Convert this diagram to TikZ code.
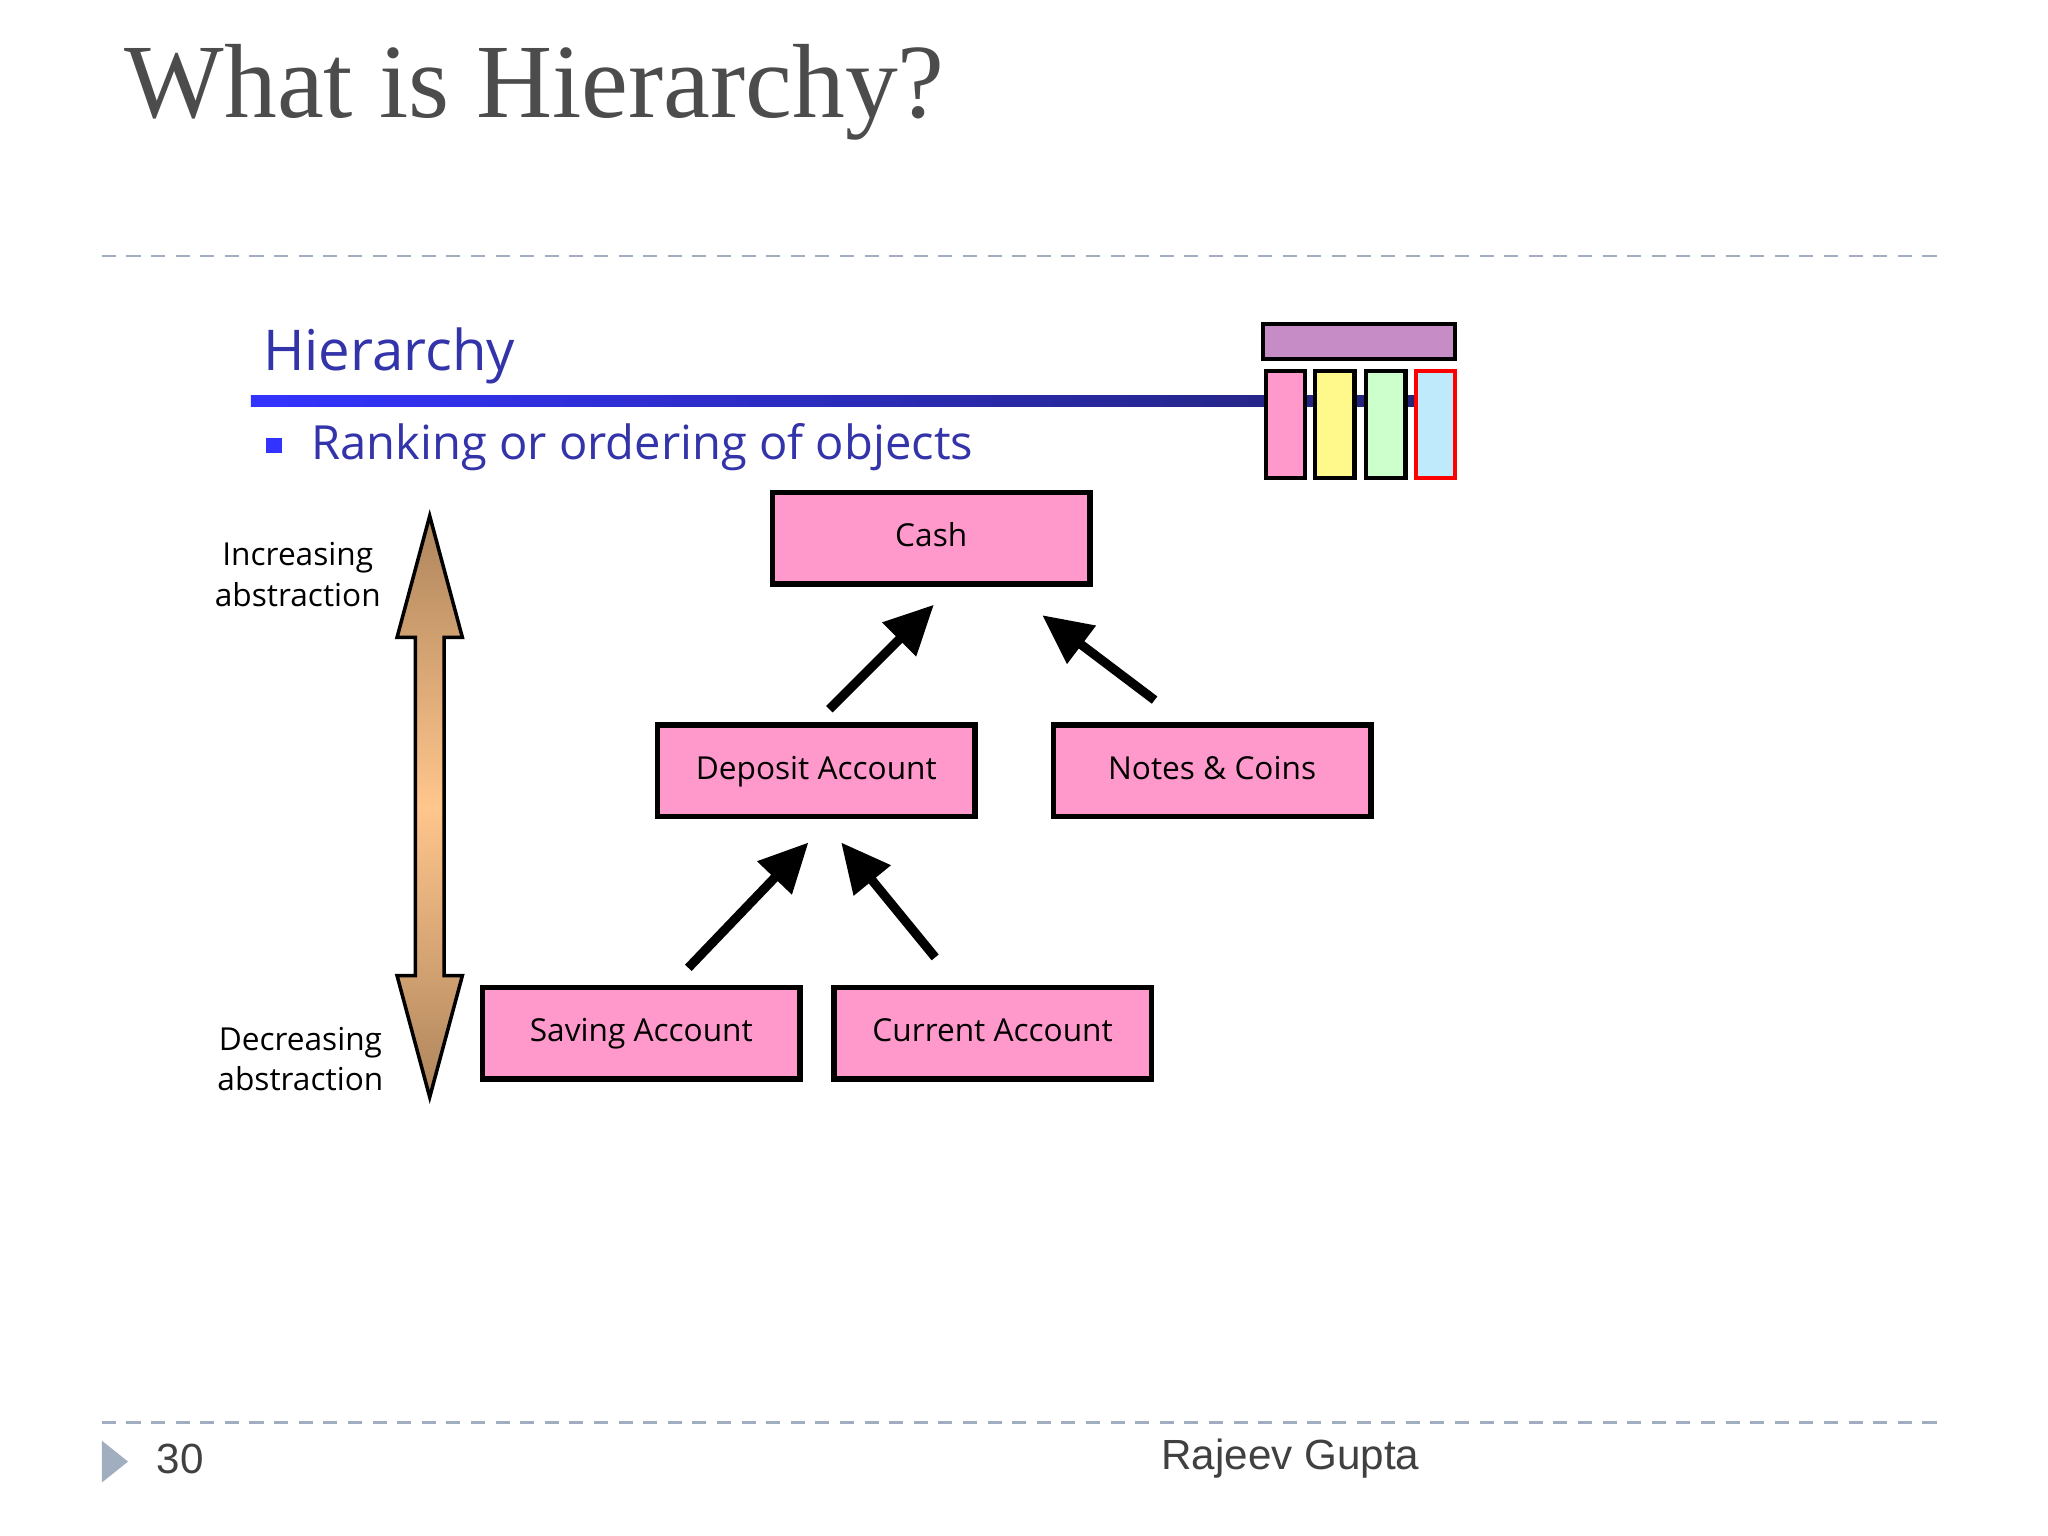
\documentclass[tikz,border=0pt]{standalone}
\usepackage{fontspec}
\setmainfont{Liberation Serif}
\newfontfamily\sans{Open Sans}
\newfontfamily\arial{Liberation Sans}
\usetikzlibrary{arrows.meta}
\definecolor{pinkbox}{HTML}{FF99CC}
\definecolor{hblue}{HTML}{3333AA}
\definecolor{dashc}{HTML}{A0AEC0}
\begin{document}
\begin{tikzpicture}[x=0.013061cm,y=-0.013061cm,
  box/.style={draw=black,line width=1.6pt,fill=pinkbox,minimum width=243*0.013061cm,minimum height=70*0.013061cm,font=\sans\fontsize{9}{11}\selectfont,inner sep=0pt,text height=7pt,text depth=2pt},
  arr/.style={line width=2.6pt,-{Triangle[length=14pt,width=13pt]}},
  lbl/.style={font=\sans\fontsize{9}{11.5}\selectfont,align=center}]
\useasboundingbox (0,0) rectangle (1568,1176);
\fill[white] (0,0) rectangle (1568,1176);
\node[anchor=base west,text=black!70,font=\fontsize{30}{36}\selectfont,inner sep=0pt] (title) at (95,90) {What is Hierarchy?};
\draw[dashc,line width=0.7pt,dash pattern=on 4pt off 3pt] (78,196) -- (1490,196);
\draw[dashc,line width=0.7pt,dash pattern=on 4pt off 3pt] (78,1089) -- (1490,1089);
\fill[dashc] (78,1103) -- (98,1119) -- (78,1135) -- cycle;
\node[font=\arial\fontsize{12}{14}\selectfont,text=black!75] (num) at (138,1117) {30};
\node[font=\arial\fontsize{12}{14}\selectfont,text=black!75] (auth) at (988,1117) {Rajeev Gupta};
% header
\node[anchor=base west,text=hblue,font=\sans\fontsize{16}{20}\selectfont,inner sep=0pt] (hh) at (201,284) {Hierarchy};
\shade[left color=blue!80!white,right color=hblue!70!black] (192,303) rectangle (1085,311);
\fill[blue!80!white] (204,335) rectangle (216,347);
\node[anchor=west,text=hblue,font=\sans\fontsize{13.4}{17}\selectfont,inner sep=0pt] (rk) at (238,342) {Ranking or ordering of objects};
\draw[black,line width=1pt,fill=violet!45!white] (967,248) rectangle (1114,275);
\draw[black,line width=1.2pt,fill=pinkbox] (969,284) rectangle (999,366);
\draw[black,line width=1.2pt,fill=yellow!45!white] (1007,284) rectangle (1037,366);
\draw[black,line width=1.2pt,fill=green!20!white] (1046,284) rectangle (1076,366);
\draw[red,line width=1.2pt,fill=cyan!25!white] (1084,284) rectangle (1114,366);
% boxes
\node[box] (cash) at (713,412) {Cash};
\node[box] (dep) at (625,590) {Deposit Account};
\node[box] (notes) at (928,590) {Notes \& Coins};
\node[box] (sav) at (491,791) {Saving Account};
\node[box] (cur) at (760,791) {Current Account};
\coordinate (a1s) at (635,543); \coordinate (a1e) at (715,463);
\coordinate (a2s) at (884,536); \coordinate (a2e) at (798,471);
\coordinate (a3s) at (527,741); \coordinate (a3e) at (619,645);
\coordinate (a4s) at (716,733); \coordinate (a4e) at (644,645);
\draw[arr] (a1s) -- (a1e);
\draw[arr] (a2s) -- (a2e);
\draw[arr] (a3s) -- (a3e);
\draw[arr] (a4s) -- (a4e);
% double arrow
\shade[top color=brown!80!black!80,bottom color=brown!80!black!80,middle color=orange!45!white,draw=black,line width=1pt]
 (329,395) -- (354,488) -- (340,488) -- (340,747) -- (354,747) -- (329,840) -- (304,747) -- (318,747) -- (318,488) -- (304,488) -- cycle;
\node[lbl] (inc) at (228,440) {Increasing\\abstraction};
\node[lbl] (dec) at (230,811) {Decreasing\\abstraction};
\end{tikzpicture}
\end{document}
